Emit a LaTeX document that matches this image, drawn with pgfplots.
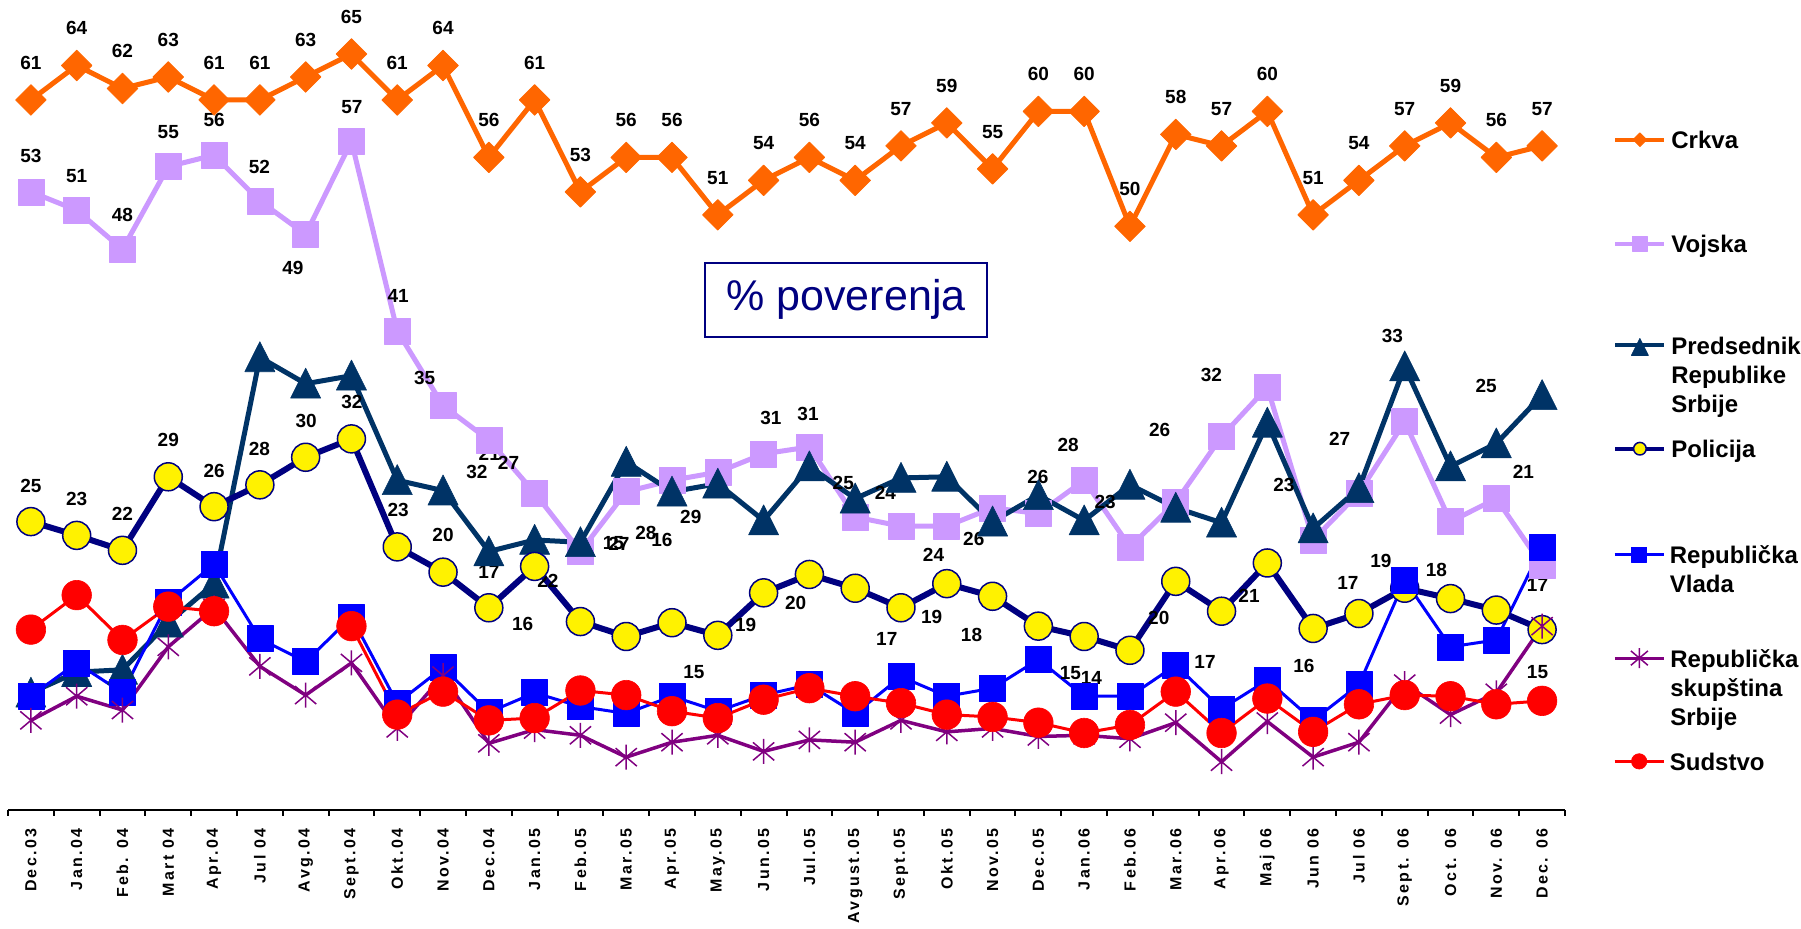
\documentclass[border=0pt]{standalone}
\usepackage{fontspec}
\setmainfont{Liberation Sans}
\newfontfamily\tickfamily[LetterSpace=15]{Liberation Sans}
\usepackage{pgfplots}
\usepackage{pgfplotstable}
\pgfplotsset{compat=1.18}

\definecolor{crkva}{HTML}{FF6600}
\definecolor{vojska}{HTML}{CC99FF}
\definecolor{pred}{HTML}{003366}
\definecolor{pol}{HTML}{000080}
\definecolor{vlada}{HTML}{0000FF}
\definecolor{skup}{HTML}{800080}
\definecolor{sud}{HTML}{FF0000}

% asterisk like the spreadsheet one: vertical bar plus an X
\pgfdeclareplotmark{xstar}{%
  \pgfpathmoveto{\pgfqpoint{0pt}{\pgfplotmarksize}}%
  \pgfpathlineto{\pgfqpoint{0pt}{-\pgfplotmarksize}}%
  \pgfpathmoveto{\pgfqpoint{-.85\pgfplotmarksize}{-.72\pgfplotmarksize}}%
  \pgfpathlineto{\pgfqpoint{.85\pgfplotmarksize}{.72\pgfplotmarksize}}%
  \pgfpathmoveto{\pgfqpoint{-.85\pgfplotmarksize}{.72\pgfplotmarksize}}%
  \pgfpathlineto{\pgfqpoint{.85\pgfplotmarksize}{-.72\pgfplotmarksize}}%
  \pgfusepathqstroke}

\newcommand{\labfont}{\fontsize{9.5}{11}\selectfont\bfseries}
\newcommand{\legfont}{\fontsize{12}{14.5}\selectfont\bfseries}
\newcommand{\legbox}[1]{\parbox[t]{78pt}{\rule{0pt}{13pt}#1}}
\tikzset{lab/.style={font=\labfont, inner sep=0pt, text=black}}
\newcommand{\lab}[3]{\node[lab] at (axis cs:#1,#2) {#3};}

\pgfplotsset{
  s crkva/.style={crkva, line width=2.5pt, mark=square*, mark size=5.4pt,
    mark options={rotate=45, line width=0.4pt}},
  s vojska/.style={vojska, line width=2.5pt, mark=square*, mark size=6.5pt,
    mark options={line width=0.3pt}},
  s pred/.style={pred, line width=2.5pt, mark=triangle*, mark size=8.7pt,
    mark options={yshift=-2.2pt, yscale=1.15, line width=0.3pt}},
  s pol/.style={pol, line width=3pt, mark=*, mark size=7pt,
    mark options={fill=yellow, draw=pol, line width=0.75pt}},
  s vlada/.style={vlada, line width=1.5pt, mark=square*, mark size=6.5pt,
    mark options={line width=0.3pt}},
  s skup/.style={skup, line width=1.75pt, mark=xstar, mark size=6.25pt,
    mark options={line width=0.75pt}},
  s sud/.style={sud, line width=1.5pt, mark=*, mark size=7.4pt,
    mark options={line width=0.3pt}},
  % one hidden axis per legend entry, same frame as the chart
  legaxis/.style={at={(0,0)}, anchor=south west,
    width=778.5pt, height=405pt, scale only axis, hide axis,
    xmin=0, xmax=1, ymin=0, ymax=1,
    legend cell align=left,
    legend style={at={(1.0308,#1)}, anchor=north west, draw=none, fill=none,
      inner sep=0pt, column sep=2.5pt, font=\legfont,
      nodes={inner sep=0pt}, cells={anchor=base west}},
    legend image code/.code={\draw[mark repeat=2, mark phase=2, line join=round, ##1]
      plot coordinates {(0pt,4.5pt) (12.25pt,4.5pt) (24.5pt,4.5pt)};}},
  small mark/.style={every mark/.append style={scale=#1}},
}

% % poverenja, Dec.03 .. Dec.06 (nan = no survey value)
\pgfplotstableread{
x  crkva vojska pred pol  vlada skup sud
0  61    53.0   9.4  24.3 9.1   7.0  14.9
1  64    51.4   11.2 23.1 12.0  9.1  17.9
2  62    48.0   11.4 21.8 9.4   7.9  14.0
3  63    55.2   15.5 28.2 17.3  13.4 16.9
4  61    56.2   18.9 25.6 20.6  16.8 16.5
5  61    52.2   38.6 27.5 14.1  11.7 nan
6  63    49.3   36.3 29.9 12.1  9.2  nan
7  65    57.4   37.0 31.5 16.0  12.0 15.2
8  61    40.9   27.9 22.1 8.5   6.3  7.5
9  64    34.4   27.0 19.9 11.6  10.9 9.5
10 56    31.4   21.7 16.8 7.7   5.0  7.0
11 61    26.8   22.7 20.4 9.4   6.2  7.2
12 53    21.7   22.5 15.6 8.2   5.7  9.6
13 56    26.9   29.5 14.3 7.6   3.8  9.2
14 56    27.9   26.9 15.5 9.1   5.1  7.8
15 51    28.6   27.6 14.4 7.8   5.7  7.2
16 54    30.2   24.4 18.1 9.2   4.3  8.8
17 56    30.8   29.1 19.7 10.1  5.3  9.8
18 54    24.7   26.3 18.5 7.6   5.1  9.1
19 57    23.9   28.1 16.8 10.8  7.0  8.5
20 59    23.9   28.2 18.9 9.1   6.0  7.5
21 55    25.5   24.3 17.8 9.8   6.3  7.3
22 60    25.0   26.6 15.2 12.3  5.6  6.8
23 60    27.9   24.4 14.3 9.1   5.7  5.9
24 50    22.1   27.5 13.1 9.1   5.4  6.6
25 58    26.0   25.5 19.1 11.8  6.8  9.5
26 57    31.7   24.2 16.5 8.0   3.4  5.9
27 60    36.0   32.9 20.7 10.5  6.9  8.9
28 51    22.7   23.7 15.0 7.0   3.8  6.0
29 54    26.8   27.2 16.3 10.1  5.1  8.4
30 57    33.0   37.8 18.5 19.2  10.2 9.2
31 59    24.3   29.1 17.6 13.4  7.5  9.1
32 56    26.3   31.1 16.6 14.0  9.4  8.4
33 57    20.5   35.3 14.9 22.1  15.2 8.7
}\data

\begin{document}
\begin{tikzpicture}
\begin{axis}[
  width=778.5pt, height=405pt, scale only axis,
  xmin=-0.5, xmax=33.5, ymin=-0.8, ymax=69.7,
  clip=false,
  axis x line*=bottom, axis y line=none,
  x axis line style={-, line width=1pt, black},
  xtick={0,...,33},
  xticklabels={Dec.03, Jan.04, Feb. 04, Mart 04, Apr.04, Jul 04, Avg.04, Sept.04,
    Okt.04, Nov.04, Dec.04, Jan.05, Feb.05, Mar.05, Apr.05, May.05, Jun.05, Jul.05,
    Avgust.05, Sept.05, Okt.05, Nov.05, Dec.05, Jan.06, Feb.06, Mar.06, Apr.06,
    Maj 06, Jun 06, Jul 06, Sept. 06, Oct. 06, Nov. 06, Dec. 06},
  major tick length=0pt,
  minor xtick={-0.5,0.5,...,33.5},
  minor tick length=3pt,
  tick align=outside,
  minor tick style={line width=1pt, black},
  xticklabel style={rotate=90, anchor=east, inner sep=0pt,
    font=\tickfamily\bfseries\fontsize{8}{9.6}\selectfont},
  xticklabel shift=9pt,
  /pgf/number format/assume math mode=true,
  unbounded coords=jump,
  every axis plot/.append style={line join=round},
]

\addplot[s crkva, nodes near coords,
  every node near coord/.append style={font=\labfont, inner sep=0pt, yshift=15pt, text=black}]
  table[x=x, y=crkva]{\data};
\addplot[s vojska] table[x=x, y=vojska]{\data};
\addplot[s pred] table[x=x, y=pred]{\data};
\addplot[s pol] table[x=x, y=pol]{\data};
\addplot[s vlada] table[x=x, y=vlada]{\data};
\addplot[s skup] table[x=x, y=skup]{\data};
\addplot[s sud] table[x=x, y=sud]{\data};

\node[draw=pol, line width=1pt, fill=white, text=pol, inner sep=0pt,
  minimum width=141pt, minimum height=37pt,
  font=\fontsize{21.5}{24}\selectfont] at (axis cs:17.8,43.6) {\% poverenja};

% data labels, placed where the original chart has them
\lab{0}{56.1}{53} \lab{1}{54.4}{51} \lab{2}{51.0}{48} \lab{3}{58.2}{55}
\lab{4}{59.3}{56} \lab{4.99}{55.2}{52} \lab{5.72}{46.4}{49} \lab{7.01}{60.4}{57}
\lab{8.02}{43.9}{41} \lab{8.6}{36.8}{35}
\lab{0}{27.4}{25} \lab{1}{26.3}{23} \lab{2}{25.0}{22} \lab{3}{31.4}{29}
\lab{4}{28.7}{26} \lab{4.99}{30.6}{28} \lab{6.01}{33.1}{30} \lab{7.01}{34.7}{32}
\lab{8.02}{25.3}{23} \lab{9.0}{23.1}{20} \lab{9.74}{28.6}{32} \lab{10.01}{30.2}{21}
\lab{10.43}{29.4}{27} \lab{10.0}{19.9}{17} \lab{10.74}{15.4}{16} \lab{11.29}{19.1}{22}
\lab{12.72}{22.4}{15} \lab{12.84}{22.4}{27} \lab{13.43}{23.3}{28} \lab{13.78}{22.7}{16}
\lab{14.41}{24.7}{29} \lab{14.48}{11.2}{15} \lab{15.61}{15.3}{19} \lab{16.16}{33.3}{31}
\lab{16.97}{33.7}{31} \lab{16.7}{17.2}{20} \lab{17.74}{27.7}{25} \lab{18.66}{26.8}{24}
\lab{18.69}{14.1}{17} \lab{19.71}{21.4}{24} \lab{19.67}{16.0}{19} \lab{20.59}{22.8}{26}
\lab{20.54}{14.4}{18} \lab{21.99}{28.2}{26} \lab{21.99}{12.4}{16} \lab{22.65}{31.0}{28}
\lab{22.7}{11.1}{15} \lab{23.16}{10.7}{14} \lab{23.46}{26.0}{23} \lab{24.63}{15.9}{20}
\lab{24.65}{32.3}{26} \lab{25.64}{12.1}{17} \lab{25.78}{37.1}{32} \lab{26.6}{17.8}{21}
\lab{27.36}{27.5}{23} \lab{27.8}{11.7}{16} \lab{28.58}{31.5}{27} \lab{28.76}{19.0}{17}
\lab{29.48}{20.9}{19} \lab{29.73}{40.5}{33} \lab{30.69}{20.1}{18} \lab{31.78}{36.1}{25}
\lab{32.59}{28.6}{21} \lab{32.9}{18.8}{17} \lab{32.9}{11.2}{15}
\end{axis}

\begin{axis}[legaxis=0.849]
\addlegendimage{s crkva, small mark=0.45, line width=2pt}\addlegendentry{\legbox{Crkva}}
\end{axis}
\begin{axis}[legaxis=0.7206]
\addlegendimage{s vojska, small mark=0.58, line width=2pt}\addlegendentry{\legbox{Vojska}}
\end{axis}
\begin{axis}[legaxis=0.5951]
\addlegendimage{s pred, small mark=0.57, line width=2pt}\addlegendentry{\legbox{Predsednik\\Republike\\Srbije}}
\end{axis}
\begin{axis}[legaxis=0.4675]
\addlegendimage{s pol, small mark=0.45, line width=2pt}\addlegendentry{\legbox{Policija}}
\end{axis}
\begin{axis}[legaxis=0.337]
\addlegendimage{s vlada, small mark=0.58, line width=1.25pt}\addlegendentry{\legbox{Republička\\Vlada}}
\end{axis}
\begin{axis}[legaxis=0.209]
\addlegendimage{s skup, small mark=0.8, line width=1.5pt}\addlegendentry{\legbox{Republička\\skupština\\Srbije}}
\end{axis}
\begin{axis}[legaxis=0.0815]
\addlegendimage{s sud, small mark=0.52, line width=1.25pt}\addlegendentry{\legbox{Sudstvo}}
\end{axis}

\pgfresetboundingbox
\path[use as bounding box] (-4pt,-59.5pt) rectangle (896.5pt,405pt);
\end{tikzpicture}
\end{document}
